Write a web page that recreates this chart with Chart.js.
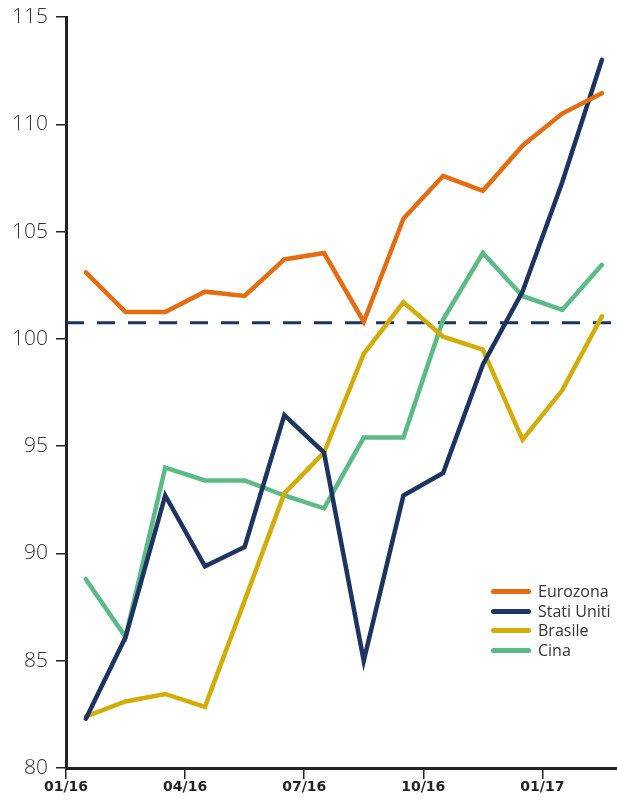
<!DOCTYPE html>
<html>
<head>
<meta charset="utf-8">
<script src="https://cdn.jsdelivr.net/npm/chart.js@4.4.0/dist/chart.umd.min.js"></script>
<style>
  html, body { margin: 0; padding: 0; background: #fff; }
  #wrap { position: relative; width: 617px; height: 803px; }
  #legend { position: absolute; left: 491px; top: 582px; font-family: "Open Sans", sans-serif; font-size: 16px; color: #333; }
  #legend div { height: 19.5px; line-height: 19.5px; white-space: nowrap; }
  #legend span { display: inline-block; width: 40px; height: 5px; border-radius: 3px; vertical-align: middle; margin-right: 7px; position: relative; top: -1px; }
</style>
</head>
<body>
<div id="wrap">
  <canvas id="chart" width="617" height="803"></canvas>
  <div id="legend"></div>
</div>
<script>
// months shown (one point per month, drawn mid-month)
const months = ['01/16', '02/16', '03/16', '04/16', '05/16', '06/16', '07/16',
                '08/16', '09/16', '10/16', '11/16', '12/16', '01/17', '02/17'];
const tickLabels = ['01/16', '04/16', '07/16', '10/16', '01/17'];

const eurozona = [103.1, 101.25, 101.25, 102.2, 102.0, 103.7, 104.0, 100.8, 105.6, 107.6, 106.9, 109.0, 110.5, 111.45];
const statiUniti = [82.3, 86.1, 92.7, 89.4, 90.3, 96.45, 94.7, 85.0, 92.7, 93.75, 98.8, 102.2, 107.3, 113.0];
const brasile = [82.4, 83.1, 83.45, 82.85, 87.8, 92.8, 94.7, 99.3, 101.7, 100.1, 99.5, 95.3, 97.6, 101.05];
const cina = [88.8, 86.1, 94.0, 93.4, 93.4, 92.7, 92.1, 95.4, 95.4, 100.9, 104.0, 102.0, 101.35, 103.45];
const reference = 100.75;

const seriesNames = ['Eurozona', 'Stati Uniti', 'Brasile', 'Cina'];
const seriesColors = ['#e46c12', '#1d3461', '#d2ad0a', '#5cba86'];
const seriesData = [eurozona, statiUniti, brasile, cina];

const xMax = 13.88;

function toPoints(values) {
    return values.map((v, i) => ({ x: i + 0.5, y: v }));
}

const datasets = seriesData.map((vals, i) => ({
    label: seriesNames[i],
    data: toPoints(vals),
    borderColor: seriesColors[i],
    borderWidth: 4.5,
    pointRadius: 0,
    tension: 0,
    borderCapStyle: 'round',
    borderJoinStyle: 'miter'
}));

datasets.push({
    label: 'ref',
    data: [{ x: 0, y: reference }, { x: xMax, y: reference }],
    borderColor: '#1d3461',
    borderWidth: 3,
    borderDash: [18, 13],
    pointRadius: 0
});

new Chart(document.getElementById('chart'), {
    type: 'line',
    data: { datasets: datasets },
    options: {
        responsive: false,
        animation: false,
        layout: { padding: { top: 0, right: 0, left: 0, bottom: 0 } },
        plugins: { legend: { display: false }, tooltip: { enabled: false } },
        scales: {
            x: {
                type: 'linear',
                min: 0,
                max: xMax,
                afterBuildTicks: s => { s.ticks = tickLabels.map((t, i) => ({ value: i * 3 })); },
                afterFit: s => { s.height = 35; },
                border: { color: '#222', width: 3 },
                grid: { drawOnChartArea: false, color: '#222', lineWidth: 1.5, tickLength: 11 },
                ticks: {
                    autoSkip: false,
                    maxRotation: 0,
                    padding: 0,
                    color: '#222',
                    font: { family: 'DejaVu Sans', size: 14, weight: 'bold' },
                    callback: (v) => tickLabels[Math.round(v / 3)]
                }
            },
            y: {
                min: 80,
                max: 115,
                afterFit: s => { s.width = 66; s.paddingTop = 17; },
                border: { color: '#222', width: 3 },
                grid: { drawOnChartArea: false, color: '#222', lineWidth: 1.5, tickLength: 10 },
                ticks: {
                    stepSize: 5,
                    padding: 8,
                    color: '#333',
                    font: { family: 'Open Sans', size: 21, weight: '300' }
                }
            }
        }
    }
});

// legend
const legend = document.getElementById('legend');
seriesNames.forEach((name, i) => {
    const row = document.createElement('div');
    row.innerHTML = '<span style="background:' + seriesColors[i] + '"></span>' + name;
    legend.appendChild(row);
});
</script>
</body>
</html>
